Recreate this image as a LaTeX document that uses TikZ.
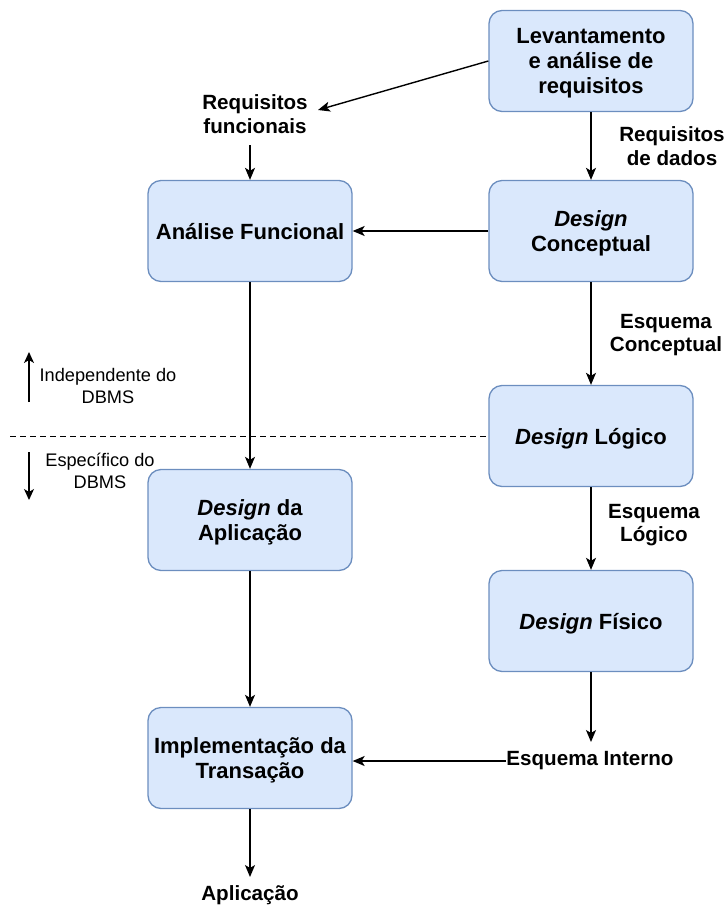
\documentclass[tikz,border=0pt]{standalone}
\usepackage{fontspec}
\setmainfont{Liberation Sans}
\usetikzlibrary{arrows.meta}
\definecolor{boxfill}{HTML}{DAE8FC}
\definecolor{boxline}{HTML}{6C8EBF}
\tikzset{
  procbox/.style={draw=boxline, fill=boxfill, line width=1.3pt, rounded corners=13pt,
    minimum width=204pt, minimum height=101pt, inner sep=0pt, align=center,
    text depth=-3.5pt, font=\fontsize{22}{25}\selectfont\bfseries},
  flowlabel/.style={align=center, inner sep=0pt, font=\fontsize{20.6}{23.5}\selectfont\bfseries},
  sidelabel/.style={align=center, inner sep=0pt, font=\fontsize{18.2}{22}\selectfont},
  flow/.style={line width=1.4pt, -{Stealth[length=12pt,width=10pt,inset=3pt]}},
  sidearrow/.style={line width=1.3pt, -{Stealth[length=11pt,width=10pt,inset=3pt]}},
}
\begin{document}
\begin{tikzpicture}[x=1pt,y=-1pt]
\useasboundingbox (0,0) rectangle (725,908);
% boxes
\node[procbox] (lev) at (591,61) {Levantamento\\e análise de\\requisitos};
\node[procbox] (conc) at (591,231) {\textit{Design}\\Conceptual};
\node[procbox] (log) at (591,436) {\textit{Design} Lógico};
\node[procbox] (fis) at (591,621) {\textit{Design} Físico};
\node[procbox] (anf) at (250,231) {Análise Funcional};
\node[procbox] (apl) at (250,520) {\textit{Design} da\\Aplicação};
\node[procbox] (imp) at (250,758) {Implementação da\\Transação};
% labels
\node[flowlabel] (reqf) at (255,114) {Requisitos\\funcionais};
\node[flowlabel] (reqd) at (672,146) {Requisitos\\de dados};
\node[flowlabel] (esqc) at (666,335) {Esquema\\Conceptual};
\node[flowlabel] (esql) at (654,525) {Esquema\\Lógico};
\node[flowlabel] (esqi) at (590,761) {Esquema Interno};
\node[flowlabel] (aplic) at (250,895) {Aplicação};
\node[sidelabel] (indep) at (108,386) {Independente do\\DBMS};
\node[sidelabel] (espec) at (100,471) {Específico do\\DBMS};
% connectors
\draw[flow] (lev.west) -- (318,110);
\draw[flow] (250,145) -- (anf.north);
\draw[flow] (lev.south) -- (conc.north);
\draw[flow] (conc.west) -- (anf.east);
\draw[flow] (conc.south) -- (log.north);
\draw[flow] (log.south) -- (fis.north);
\draw[flow] (anf.south) -- (apl.north);
\draw[flow] (apl.south) -- (imp.north);
\draw[flow] (fis.south) -- (591,742);
\draw[flow] (esqi.west) -- (imp.east |- esqi.west);
\draw[flow] (imp.south) -- (250,877);
% dashed divider
\coordinate (dl) at (10,436);
\coordinate (dr) at (487,436);
\draw[line width=0.9pt, dash pattern=on 6pt off 4pt] (dl) -- (dr);
% side arrows
\coordinate (ua) at (29,402);
\coordinate (ub) at (29,352);
\coordinate (da) at (29,452);
\coordinate (db) at (29,500);
\draw[sidearrow] (ua) -- (ub);
\draw[sidearrow] (da) -- (db);
\end{tikzpicture}
\end{document}
